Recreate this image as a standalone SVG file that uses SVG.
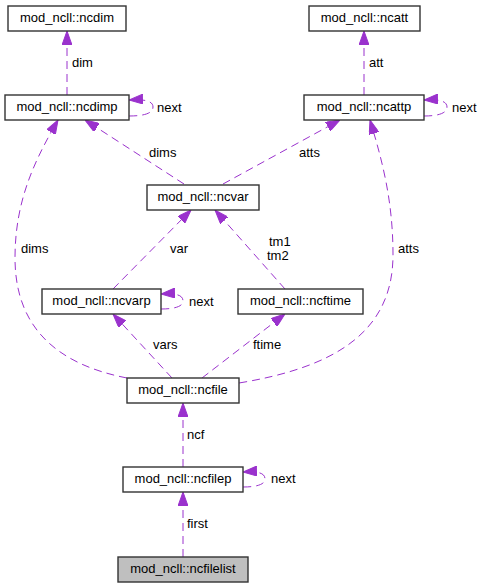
<svg xmlns="http://www.w3.org/2000/svg" width="483" height="588" viewBox="0 0 483 588">
<style>
.node rect{fill:#fff;stroke:#333;stroke-width:1.4}
.node.hl rect{fill:#bfbfbf}
.node text{font-family:"Liberation Sans",Arial,sans-serif;font-size:13px;text-anchor:middle;fill:#000}
.edges path{fill:none;stroke:#9a32cd;stroke-width:1;stroke-dasharray:8,5;marker-end:url(#arr)}
.lbl{font-family:"Liberation Sans",Arial,sans-serif;font-size:13px;fill:#000}
</style>
<defs>
<marker id="arr" viewBox="0 0 14 10" refX="14" refY="5" markerWidth="14" markerHeight="10" markerUnits="userSpaceOnUse" orient="auto">
<path d="M0,0 L14,5 L0,10 z" fill="#9a32cd" stroke="#9a32cd" stroke-width="1"/>
</marker>
</defs>
<rect width="483" height="588" fill="#fff"/>
<g id="edges" class="edges">
<path d="M67,95 L67,31"/>
<path d="M129,116 C145,116 153,113 153,107 C153,101 145,99 129,100"/>
<path d="M184,184 L85,120"/>
<path d="M127,378 C60,365 15,330 15,258 C15,200 35,160 58,120"/>
<path d="M364,95 L364,31"/>
<path d="M424,116 C439,116 447,113 447,107 C447,101 439,99 424,100"/>
<path d="M223,184 L340,120"/>
<path d="M239,383 C330,368 393,335 393,255 C393,200 382,160 370,120"/>
<path d="M113,289 L191,210"/>
<path d="M285,289 L215,210"/>
<path d="M161,309 C176,309 183,306 183,301 C183,295 176,293 161,294"/>
<path d="M172,378 L113,314"/>
<path d="M202,378 L285,314"/>
<path d="M183,467 L183,403"/>
<path d="M243,487 C258,487 265,484 265,479 C265,473 258,471 243,472"/>
<path d="M183,557 L183,492"/>
</g>
<g id="labels">
<text class="lbl" x="72" y="67">dim</text>
<text class="lbl" x="157" y="112">next</text>
<text class="lbl" x="149" y="157">dims</text>
<text class="lbl" x="369" y="67">att</text>
<text class="lbl" x="452" y="112">next</text>
<text class="lbl" x="299" y="157">atts</text>
<text class="lbl" x="21" y="253">dims</text>
<text class="lbl" x="170" y="253">var</text>
<text class="lbl" x="398" y="253">atts</text>
<text class="lbl" x="269" y="246">tm1</text>
<text class="lbl" x="267" y="260">tm2</text>
<text class="lbl" x="189" y="306">next</text>
<text class="lbl" x="153" y="349">vars</text>
<text class="lbl" x="253" y="349">ftime</text>
<text class="lbl" x="187" y="439">ncf</text>
<text class="lbl" x="271" y="483">next</text>
<text class="lbl" x="187" y="528">first</text>
</g>
<g id="ncdim" class="node"><rect x="8" y="6" width="118" height="25"/><text x="67" y="22">mod_ncll::ncdim</text></g>
<g id="ncdimp" class="node"><rect x="5" y="95" width="124" height="25"/><text x="67" y="111">mod_ncll::ncdimp</text></g>
<g id="ncatt" class="node"><rect x="309" y="6" width="111" height="25"/><text x="364.5" y="22">mod_ncll::ncatt</text></g>
<g id="ncattp" class="node"><rect x="304" y="95" width="120" height="25"/><text x="364" y="111">mod_ncll::ncattp</text></g>
<g id="ncvar" class="node"><rect x="147" y="185" width="112" height="25"/><text x="203" y="201">mod_ncll::ncvar</text></g>
<g id="ncvarp" class="node"><rect x="42" y="289" width="119" height="25"/><text x="101.5" y="305">mod_ncll::ncvarp</text></g>
<g id="ncftime" class="node"><rect x="238" y="289" width="125" height="25"/><text x="300.5" y="305">mod_ncll::ncftime</text></g>
<g id="ncfile" class="node"><rect x="127" y="378" width="112" height="25"/><text x="183" y="394">mod_ncll::ncfile</text></g>
<g id="ncfilep" class="node"><rect x="123" y="467" width="120" height="25"/><text x="183" y="483">mod_ncll::ncfilep</text></g>
<g id="ncfilelist" class="node hl"><rect x="118" y="557" width="130" height="25"/><text x="183" y="573">mod_ncll::ncfilelist</text></g>
</svg>
